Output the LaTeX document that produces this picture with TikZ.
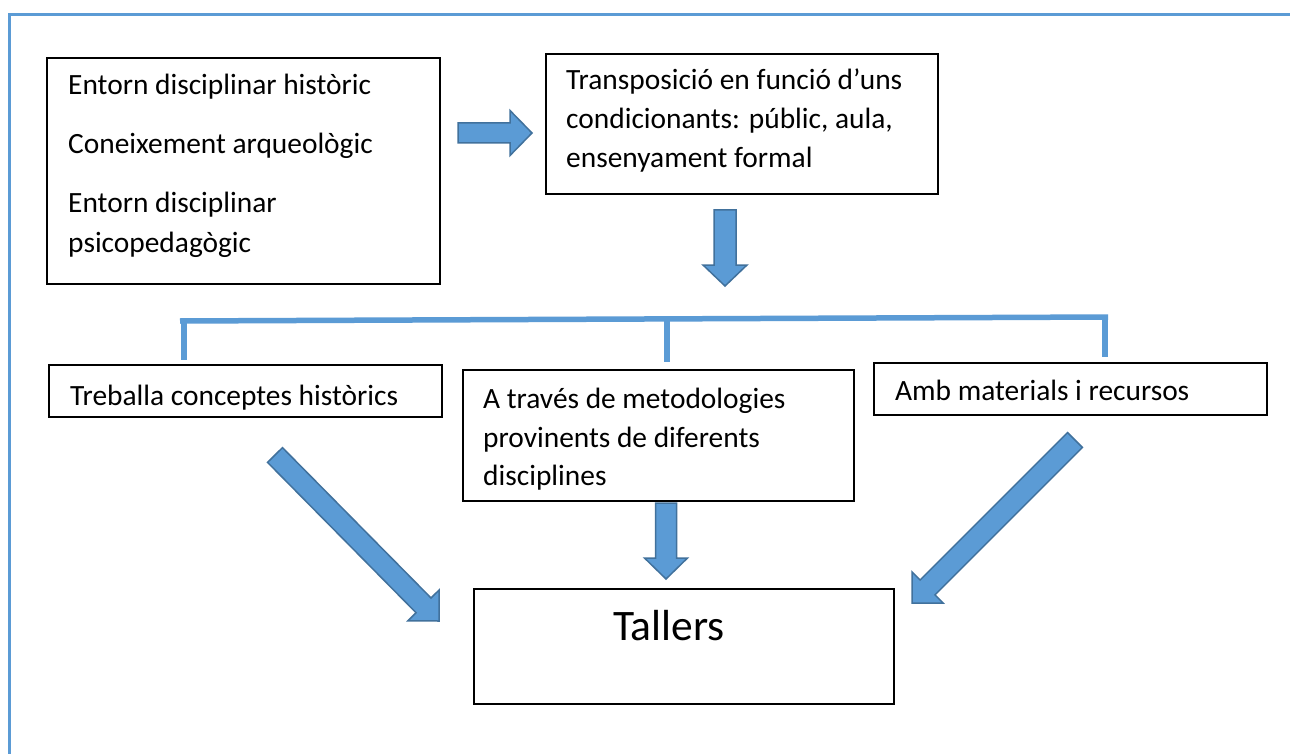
\documentclass[tikz,border=0pt]{standalone}
\usepackage{fontspec}
\setmainfont{Carlito}
\usetikzlibrary{calc}
\definecolor{acc}{HTML}{5B9BD5}
\definecolor{accd}{HTML}{41719C}
% block arrow from named coordinate #1 (tail centre) to #2 (tip)
% #3 shaft half width, #4 head half width, #5 head length
\newcommand\blockarr[5]{%
  \path (#1); \pgfgetlastxy{\bax}{\bay}%
  \path (#2); \pgfgetlastxy{\bbx}{\bby}%
  \pgfmathsetmacro\bang{atan2(\bby-\bay,\bbx-\bax)}%
  \pgfmathsetmacro\blen{veclen(\bbx-\bax,\bby-\bay)}%
  \begin{scope}[shift={(\bax,\bay)},rotate=\bang]
    \draw[barr] (0,-#3) -- (\blen-#5,-#3) -- (\blen-#5,-#4) -- (\blen,0)
      -- (\blen-#5,#4) -- (\blen-#5,#3) -- (0,#3) -- cycle;
  \end{scope}}
\begin{document}
\begin{tikzpicture}[x=1pt,y=1pt,
  box/.style={draw=black,line width=1.7pt,inner sep=0pt,anchor=north west},
  txt/.style={anchor=base west,inner sep=0pt,font=\fontsize{29.4}{35}\selectfont},
  big/.style={anchor=base west,inner sep=0pt,font=\fontsize{43.5}{50}\selectfont},
  barr/.style={fill=acc,draw=accd,line width=1.5pt,line join=miter},
  brk/.style={draw=acc,line width=5.5pt},
  frm/.style={draw=acc,line width=3pt}]
\useasboundingbox (0,0) rectangle (1290,-754);
\fill[white] (0,0) rectangle (1290,-754);
% frame
\coordinate (fa) at (9,-754);
\coordinate (fb) at (9,-15);
\coordinate (fc) at (1290,-15);
\draw[frm] (fa) -- (fb) -- (fc);
% boxes
\node[box,minimum width=393,minimum height=226] (src) at (46,-57) {};
\node[box,minimum width=392,minimum height=140] (trans) at (545,-53) {};
\node[box,minimum width=393,minimum height=52] (conc) at (48,-364) {};
\node[box,minimum width=391,minimum height=131] (metod) at (462,-369) {};
\node[box,minimum width=393,minimum height=52] (mat) at (873,-362) {};
\node[box,minimum width=420,minimum height=115] (tall) at (473,-588) {};
% texts
\node[txt] (s1) at (68,-95) {Entorn disciplinar històric};
\node[txt] (s2) at (68,-154) {Coneixement arqueològic};
\node[txt] (s3) at (68,-213) {Entorn disciplinar};
\node[txt] (s4) at (68,-252) {psicopedagògic};
\node[txt] (r1) at (566,-90) {Transposició en funció d’uns};
\node[txt] (r2) at (566,-129) {condicionants: públic, aula,};
\node[txt] (r3) at (566,-168) {ensenyament formal};
\node[txt] (c1) at (70,-405) {Treballa conceptes històrics};
\node[txt] (m1) at (483,-408) {A través de metodologies};
\node[txt] (m2) at (483,-447) {provinents de diferents};
\node[txt] (m3) at (483,-485) {disciplines};
\node[txt] (a1) at (895,-400) {Amb materials i recursos};
\node[big] (tl) at (613,-640) {Tallers};
% bracket
\coordinate (bL) at (180,-321);
\coordinate (bR) at (1108,-317);
\coordinate (bLt) at (184,-321);
\coordinate (bLb) at (184,-360);
\coordinate (bMt) at (667,-320);
\coordinate (bMb) at (667,-362);
\coordinate (bRt) at (1105,-317);
\coordinate (bRb) at (1105,-357);
\draw[brk] (bL) -- (bR);
\draw[brk] (bLt) -- (bLb);
\draw[brk] (bMt) -- (bMb);
\draw[brk] (bRt) -- (bRb);
% block arrows
\coordinate (a1t) at (458,-133);
\coordinate (a1h) at (532,-133);
\coordinate (a2t) at (725,-210);
\coordinate (a2h) at (725,-286);
\coordinate (a3t) at (666,-503);
\coordinate (a3h) at (666,-579);
\coordinate (a4t) at (275,-455);
\coordinate (a4h) at (439,-621);
\coordinate (a5t) at (1075,-440);
\coordinate (a5h) at (912,-603);
\blockarr{a1t}{a1h}{10}{22.5}{22}
\blockarr{a2t}{a2h}{11}{22}{21}
\blockarr{a3t}{a3h}{10.5}{21.5}{21}
\blockarr{a4t}{a4h}{10.5}{22}{22}
\blockarr{a5t}{a5h}{10.5}{22}{22}
\end{tikzpicture}
\end{document}
